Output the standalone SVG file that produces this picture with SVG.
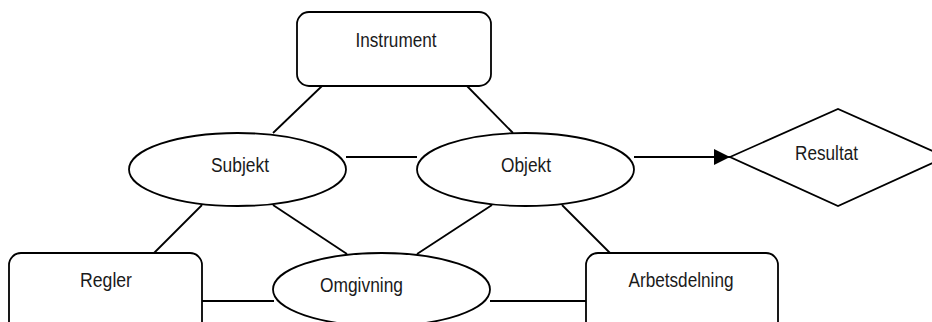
<svg xmlns="http://www.w3.org/2000/svg" width="932" height="322" viewBox="0 0 932 322">
  <style>
    .shape { fill: #ffffff; stroke: #000000; stroke-width: 1.8; }
    .link { fill: none; stroke: #000000; stroke-width: 1.8; }
    .label { font-family: "Liberation Sans", Arial, sans-serif; font-size: 20px; fill: #1a1a1a; text-anchor: middle; }
  </style>
  <defs>
    <marker id="arrow" viewBox="0 0 16 16" refX="16" refY="8" markerWidth="16" markerHeight="16" markerUnits="userSpaceOnUse" orient="auto">
      <path d="M0,0 L16,8 L0,16 Z" fill="#000000"/>
    </marker>
  </defs>
  <rect width="932" height="322" fill="#ffffff"/>

  <g id="connectors">
    <line class="link" x1="322" y1="86" x2="273" y2="133"/>
    <line class="link" x1="467" y1="86" x2="513" y2="133"/>
    <line class="link" x1="346" y1="157" x2="417" y2="157"/>
    <line class="link" x1="202" y1="205" x2="154" y2="253"/>
    <line class="link" x1="273" y1="205" x2="347" y2="254"/>
    <line class="link" x1="492" y1="205" x2="417" y2="254"/>
    <line class="link" x1="562" y1="205" x2="610" y2="253"/>
    <line class="link" x1="202" y1="301" x2="274" y2="301"/>
    <line class="link" x1="490" y1="301" x2="586" y2="301"/>
    <line class="link" x1="634" y1="157" x2="730" y2="157" marker-end="url(#arrow)"/>
  </g>

  <g id="instrument">
    <rect class="shape" x="297" y="12" width="194" height="74" rx="12"/>
    <text class="label" x="396" y="47" textLength="81" lengthAdjust="spacingAndGlyphs">Instrument</text>
  </g>

  <g id="subjekt">
    <ellipse class="shape" cx="237.5" cy="169.5" rx="108.5" ry="36.5"/>
    <text class="label" x="240" y="172" textLength="58" lengthAdjust="spacingAndGlyphs">Subjekt</text>
  </g>

  <g id="objekt">
    <ellipse class="shape" cx="525.5" cy="169.5" rx="108.5" ry="36.5"/>
    <text class="label" x="526" y="172" textLength="50" lengthAdjust="spacingAndGlyphs">Objekt</text>
  </g>

  <g id="resultat">
    <polygon class="shape" points="730,157 838,109 946,157 838,206"/>
    <text class="label" x="826.5" y="160" textLength="63" lengthAdjust="spacingAndGlyphs">Resultat</text>
  </g>

  <g id="regler">
    <rect class="shape" x="9" y="253" width="193" height="90" rx="12"/>
    <text class="label" x="106" y="287" textLength="52" lengthAdjust="spacingAndGlyphs">Regler</text>
  </g>

  <g id="omgivning">
    <ellipse class="shape" cx="381.5" cy="289.5" rx="108.5" ry="36.5"/>
    <text class="label" x="361.5" y="292" textLength="83" lengthAdjust="spacingAndGlyphs">Omgivning</text>
  </g>

  <g id="arbetsdelning">
    <rect class="shape" x="586" y="253" width="192" height="90" rx="12"/>
    <text class="label" x="681" y="287" textLength="105" lengthAdjust="spacingAndGlyphs">Arbetsdelning</text>
  </g>
</svg>
